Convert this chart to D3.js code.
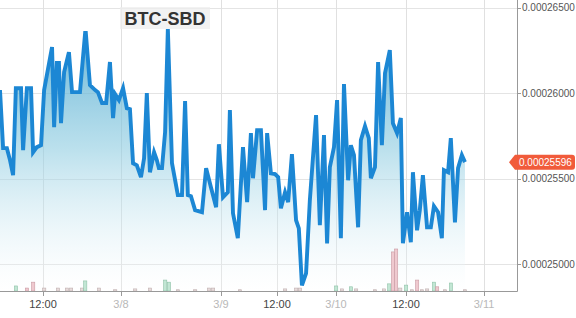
<!DOCTYPE html>
<html><head><meta charset="utf-8">
<script src="https://cdn.jsdelivr.net/npm/d3@7"></script>
<style>html,body{margin:0;padding:0;background:#fff;}svg{display:block;}</style>
</head><body>
<script>
// ---- data ----
const pair = "BTC-SBD";
const lastPrice = 0.00025596;
// x position in sample slots (irregular trading slots), price in BTC
const slots = [0.0,0.9,2.0,2.9,3.8,4.6,6.1,6.7,7.8,9.0,9.6,10.7,11.9,12.8,15.1,15.7,16.5,17.1,17.7,18.6,20.0,20.9,23.2,24.7,24.9,26.1,27.6,28.4,29.6,30.8,31.9,32.8,33.4,34.5,35.7,36.8,37.7,38.6,39.7,40.9,41.8,42.6,43.5,44.7,45.5,46.1,47.0,47.9,48.7,49.9,51.6,52.8,53.7,54.5,55.4,56.6,58.6,59.8,61.2,62.7,63.5,64.7,66.1,66.7,67.6,69.0,70.5,71.7,72.8,73.4,74.6,75.7,76.9,77.5,78.6,79.8,80.7,81.5,82.7,83.6,84.7,85.9,86.7,87.6,88.8,89.9,91.7,92.8,94.0,94.9,95.7,96.9,97.8,98.9,99.8,101.0,101.8,102.7,103.9,104.7,105.9,107.0,107.6,108.8,109.7,110.8,111.7,113.1,114.0,115.2,116.3,116.9,118.1,119.2,119.8,121.0,121.8,122.7,123.9,125.0,125.9,127.1,128.2,128.8,130.0,130.8,132.0,132.9,134.0,134.9];
const pricesMicro = [260.18,256.78,256.78,256.08,255.20,260.29,260.29,256.66,260.29,260.29,256.54,256.84,256.95,260.18,262.70,258.01,261.76,261.76,258.24,261.23,262.40,260.06,260.06,263.52,263.52,260.47,260.18,260.06,259.42,259.42,261.82,258.54,259.94,259.59,260.29,259.12,259.06,255.90,255.78,255.08,256.19,260.00,255.37,256.54,256.08,255.61,255.61,257.72,263.75,255.90,254.03,254.03,259.53,254.03,253.97,253.15,253.03,255.61,254.49,253.32,257.01,253.91,254.20,259.01,252.97,251.51,256.84,253.62,257.66,255.02,257.83,257.83,253.15,257.66,255.31,255.26,255.08,253.26,254.20,253.62,256.43,252.56,252.09,248.75,249.45,253.73,258.71,252.27,257.54,251.21,255.67,256.84,259.59,251.51,260.53,254.90,256.95,256.37,252.15,257.25,258.07,257.37,255.02,255.67,261.82,256.95,261.17,262.52,258.24,257.66,258.54,251.21,253.03,251.27,255.37,251.97,253.15,255.20,252.15,252.15,253.38,253.03,251.51,255.49,255.37,257.37,252.44,255.61,256.37,255.96];
// volume bars: slot, volume (relative), direction
const volSlots = [4.6,7.8,9.6,12.8,16.8,19.4,20.6,23.8,24.7,28.7,33.4,39.2,43.5,47.9,49.0,51.6,56.6,60.6,61.8,69.6,82.7,85.9,87.0,97.5,99.2,101.8,103.3,108.8,111.4,112.9,114.0,114.9,116.1,117.8,119.5,121.0,122.4,123.9,125.9,126.8,129.1,130.8,134.9];
const volValues = [0.12,0.07,0.21,0.07,0.07,0.07,0.07,0.07,0.24,0.07,0.03,0.05,0.07,0.26,0.21,0.03,0.03,0.07,0.07,0.03,0.05,0.07,0.07,0.12,0.05,0.10,0.05,0.03,0.05,0.17,0.93,1.00,0.07,0.14,0.03,0.26,0.03,0.05,0.21,0.10,0.03,0.19,0.03];
const volDir = ["up","down","down","flat","flat","flat","flat","flat","up","flat","flat","flat","flat","up","up","flat","flat","flat","flat","flat","flat","flat","flat","up","flat","up","flat","flat","flat","up","down","down","flat","up","flat","down","flat","flat","up","down","flat","up","flat"];
const yTicks = [0.00025, 0.000255, 0.00026, 0.000265];
const xTickSlots = [12.48, 35.11, 64.12, 80.37, 97.49, 117.80, 140.43];
const xTickLabels = ["12:00","3/8","3/9","12:00","3/10","12:00","3/11"];
const xTickIsDate = [false,true,true,false,true,false,true];

// ---- layout ----
const W = 576, H = 318;
const plotRight = 517, plotBottom = 291;
const svg = d3.select("body").append("svg").attr("width", W).attr("height", H);
svg.append("rect").attr("width", W).attr("height", H).attr("fill", "#fff");

const x = d3.scaleLinear().domain([0, 150]).range([0, plotRight]);
const y = d3.scaleLinear().domain([0.00025, 0.000265]).range([264, 7.7]);
const yv = d3.scaleLinear().domain([0, 1]).range([plotBottom, plotBottom - 42]);

const data = slots.map((s, i) => ({s, p: pricesMicro[i] * 1e-6}));
data[data.length - 1].p = lastPrice;

const defs = svg.append("defs");
defs.append("clipPath").attr("id", "clip").append("rect")
  .attr("x", 0).attr("y", 0).attr("width", plotRight).attr("height", plotBottom);
const grad = defs.append("linearGradient").attr("id", "areaGrad")
  .attr("gradientUnits", "userSpaceOnUse").attr("x1", 0).attr("x2", 0).attr("y1", 30).attr("y2", plotBottom);
grad.append("stop").attr("offset", 0).attr("stop-color", "#4aa6cf").attr("stop-opacity", 0.85);
grad.append("stop").attr("offset", 0.45).attr("stop-color", "#8ccbe0").attr("stop-opacity", 0.6);
grad.append("stop").attr("offset", 1).attr("stop-color", "#ffffff").attr("stop-opacity", 0.2);

// grid
const grid = svg.append("g");
grid.selectAll("line.h").data(yTicks).join("line")
  .attr("x1", 0).attr("x2", plotRight).attr("y1", d => Math.round(y(d)) + 0.5).attr("y2", d => Math.round(y(d)) + 0.5)
  .attr("stroke", "#e4e4e4").attr("stroke-width", 1);
grid.selectAll("line.v").data(xTickSlots).join("line")
  .attr("x1", d => Math.round(x(d)) + 0.5).attr("x2", d => Math.round(x(d)) + 0.5)
  .attr("y1", 0).attr("y2", plotBottom)
  .attr("stroke", "#e0e0e0").attr("stroke-width", 1);

const plot = svg.append("g").attr("clip-path", "url(#clip)");

// area + line
const area = d3.area().x(d => x(d.s)).y0(plotBottom).y1(d => y(d.p));
const line = d3.line().x(d => x(d.s)).y(d => y(d.p));
plot.append("path").datum(data).attr("d", area).attr("fill", "url(#areaGrad)");

// volume
const volColors = {up: ["#c2e6d4", "#8fc2a8"], down: ["#efc9cf", "#c99aa3"], flat: ["#e8dcdc", "#bfb0b0"]};
plot.selectAll("rect.vol").data(volSlots).join("rect")
  .attr("x", (d) => x(d) - 1.5)
  .attr("width", 3.2)
  .attr("y", (d, i) => yv(volValues[i]))
  .attr("height", (d, i) => plotBottom - yv(volValues[i]))
  .attr("fill", (d, i) => volColors[volDir[i]][0])
  .attr("stroke", (d, i) => volColors[volDir[i]][1])
  .attr("stroke-width", 0.6);

plot.append("path").datum(data).attr("d", line)
  .attr("fill", "none").attr("stroke", "#1c87d4").attr("stroke-width", 3.9)
  .attr("stroke-linejoin", "miter").attr("stroke-miterlimit", 4);

// axes
svg.append("line").attr("x1", plotRight + 0.5).attr("x2", plotRight + 0.5).attr("y1", 0).attr("y2", plotBottom + 0.5)
  .attr("stroke", "#999").attr("stroke-width", 1);
svg.append("line").attr("x1", 0).attr("x2", plotRight + 0.5).attr("y1", plotBottom + 0.5).attr("y2", plotBottom + 0.5)
  .attr("stroke", "#999").attr("stroke-width", 1);
svg.selectAll("line.xt").data(xTickSlots).join("line")
  .attr("x1", d => Math.round(x(d)) + 0.5).attr("x2", d => Math.round(x(d)) + 0.5)
  .attr("y1", plotBottom).attr("y2", plotBottom + 5)
  .attr("stroke", "#999");
svg.selectAll("line.yt").data(yTicks).join("line")
  .attr("x1", plotRight).attr("x2", plotRight + 4)
  .attr("y1", d => Math.round(y(d)) + 0.5).attr("y2", d => Math.round(y(d)) + 0.5)
  .attr("stroke", "#999");

svg.selectAll("text.yl").data(yTicks).join("text")
  .attr("x", 522).attr("y", d => y(d)).attr("dy", "0.35em")
  .attr("font-family", "Liberation Sans, Arial, sans-serif").attr("font-size", 10)
  .attr("fill", "#555").text(d => d.toFixed(8));

svg.selectAll("text.xl").data(xTickSlots).join("text")
  .attr("x", d => x(d)).attr("y", 308).attr("text-anchor", "middle")
  .attr("font-family", "Liberation Sans, Arial, sans-serif").attr("font-size", 11)
  .attr("fill", (d, i) => xTickIsDate[i] ? "#b8b8b8" : "#444")
  .text((d, i) => xTickLabels[i]);

// title
svg.append("rect").attr("x", 120).attr("y", 7).attr("width", 90).attr("height", 22)
  .attr("fill", "#eeeeee").attr("fill-opacity", 0.75);
svg.append("text").attr("x", 165).attr("y", 25).attr("text-anchor", "middle")
  .attr("font-family", "Liberation Sans, Arial, sans-serif").attr("font-weight", "bold").attr("font-size", 18)
  .attr("fill", "#333").text(pair);

// price tag
const ty = y(lastPrice);
const tag = svg.append("g");
tag.append("path")
  .attr("d", `M509,${ty} L515,${ty - 7.5} L572,${ty - 7.5} Q575,${ty - 7.5} 575,${ty - 4.5} L575,${ty + 4.5} Q575,${ty + 7.5} 572,${ty + 7.5} L515,${ty + 7.5} Z`)
  .attr("fill", "#f15b3b");
tag.append("text").attr("x", 519).attr("y", ty).attr("dy", "0.35em")
  .attr("font-family", "Liberation Sans, Arial, sans-serif").attr("font-size", 10)
  .attr("fill", "#fff").text(lastPrice.toFixed(8));
</script>
</body></html>
